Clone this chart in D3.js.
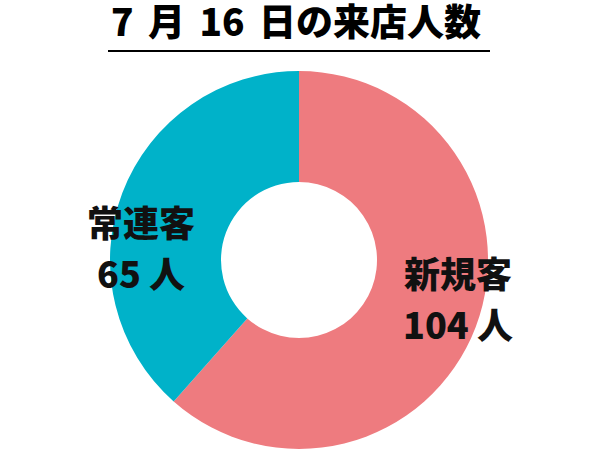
<!DOCTYPE html>
<html>
<head>
<meta charset="utf-8">
<script src="https://cdn.jsdelivr.net/npm/d3@7"></script>
<style>
  body { margin: 0; background: #fff; }
  text { font-family: "Noto Sans CJK JP", "Noto Sans", sans-serif; font-weight: 900; }
</style>
</head>
<body>
<div id="chart"></div>
<script>
// Data
const categories = ["新規客", "常連客"];
const values = [104, 65];
const colors = ["#EE7B7F", "#00B2C9"];
const title = "7 月 16 日の来店人数";

const width = 600, height = 450;
const cx = 299, cy = 260, outerR = 189, innerR = 78;

const svg = d3.select("#chart")
  .append("svg")
  .attr("width", width)
  .attr("height", height);

// Title + rule
svg.append("text")
  .attr("x", 296)
  .attr("y", 20)
  .attr("dominant-baseline", "central")
  .attr("text-anchor", "middle")
  .style("font-size", "37px")
  .style("word-spacing", "6px")
  .text(title);

svg.append("line")
  .attr("x1", 108).attr("x2", 490)
  .attr("y1", 51).attr("y2", 51)
  .attr("stroke", "#000")
  .attr("stroke-width", 2);

// Donut
const data = categories.map((c, i) => ({name: c, value: values[i], color: colors[i]}));

const pie = d3.pie()
  .sort(null)
  .value(d => d.value);

const arc = d3.arc()
  .innerRadius(innerR)
  .outerRadius(outerR);

const g = svg.append("g")
  .attr("transform", `translate(${cx},${cy})`);

g.selectAll("path")
  .data(pie(data))
  .join("path")
  .attr("fill", d => d.data.color)
  .attr("d", arc);

// Labels
const labelPos = [
  {x: 458, y: 272},  // 新規客
  {x: 141, y: 221}   // 常連客
];

data.forEach((d, i) => {
  const t = svg.append("text")
    .attr("text-anchor", "middle")
    .style("font-size", "36px")
    .attr("fill", "#111");
  t.append("tspan")
    .attr("x", labelPos[i].x)
    .attr("y", labelPos[i].y)
    .attr("dominant-baseline", "central")
    .text(d.name);
  t.append("tspan")
    .attr("x", labelPos[i].x)
    .attr("y", labelPos[i].y + 51)
    .attr("dominant-baseline", "central")
    .text(`${d.value} 人`);
});
</script>
</body>
</html>
